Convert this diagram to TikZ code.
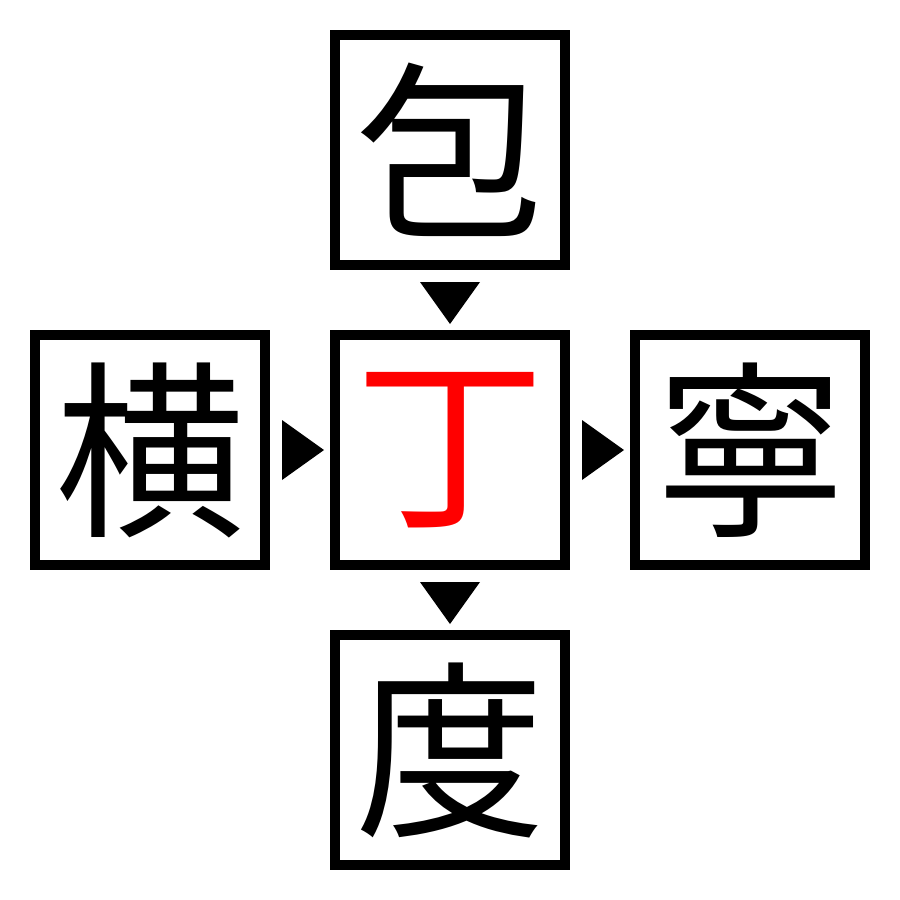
\documentclass[tikz,border=0pt]{standalone}
\usepackage{fontspec}
\newfontfamily\cjk{Noto Sans CJK JP}
\usetikzlibrary{positioning,calc}

\tikzset{
    cell/.style={draw, line width=10pt, minimum size=230pt, inner sep=0pt,
        font=\cjk\fontsize{190}{190}\selectfont},
    marker/.style={fill=black}
}

\begin{document}
\begin{tikzpicture}[x=1pt, y=-1pt]
    \useasboundingbox (0, 0) rectangle (900, 900);
    % Boxes
    \node [cell] (bao) at (450, 150) {包};
    \node [cell] (ding) at (450, 450) {\textcolor{red}{丁}};
    \node [cell] (heng) at (150, 450) {横};
    \node [cell] (ning) at (750, 450) {寧};
    \node [cell] (du) at (450, 750) {度};

    % Markers
    \fill [marker] ($(bao.south)+(-30, 12)$) -- ($(bao.south)+(30, 12)$) -- ($(bao.south)+(0, 54)$) -- cycle;
    \fill [marker] ($(ding.south)+(-30, 12)$) -- ($(ding.south)+(30, 12)$) -- ($(ding.south)+(0, 54)$) -- cycle;
    \fill [marker] ($(heng.east)+(12, -30)$) -- ($(heng.east)+(12, 30)$) -- ($(heng.east)+(54, 0)$) -- cycle;
    \fill [marker] ($(ding.east)+(12, -30)$) -- ($(ding.east)+(12, 30)$) -- ($(ding.east)+(54, 0)$) -- cycle;
\end{tikzpicture}
\end{document}
